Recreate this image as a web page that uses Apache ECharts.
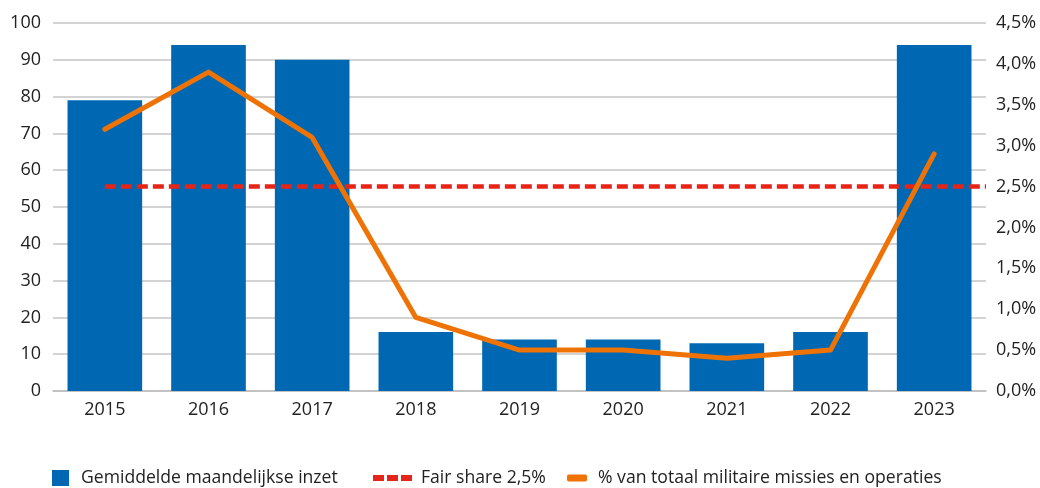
<!DOCTYPE html>
<html>
<head>
<meta charset="utf-8">
<script src="https://cdn.jsdelivr.net/npm/echarts@6/dist/echarts.min.js"></script>
<style>
  html, body { margin: 0; padding: 0; background: #fff; }
  #chart { width: 1040px; height: 488px; }
</style>
</head>
<body>
<div id="chart"></div>
<script>
// jaren en waarden
const years = ['2015', '2016', '2017', '2018', '2019', '2020', '2021', '2022', '2023']
const inzet = [79, 94, 90, 16, 14, 14, 13, 16, 94]           // gemiddelde maandelijkse inzet
const percentage = [3.2, 3.9, 3.1, 0.9, 0.5, 0.5, 0.4, 0.5, 2.9] // % van totaal
const fairShareValue = 2.5

const blauw = '#0068b3'
const rood = '#e42518'
const oranje = '#ef7204'
const tekst = '#222'
const font = 'Open Sans'

// fair share loopt van 2015 door tot de rechterrand van het plotvlak
const fairShare = years.map((y, i) => [i, fairShareValue]).concat([[years.length - 0.5, fairShareValue]])

var chartDom = document.getElementById('chart')
const chart = echarts.init(chartDom)

const legendText = { fontFamily: font, fontSize: 17.6, color: tekst, lineHeight: 20 }

const option = {
  backgroundColor: '#fff',
  animation: false,
  textStyle: { fontFamily: font },
  grid: {
    left: 53,
    right: 54,
    top: 23,
    bottom: 97
  },
  legend: [
    {
      left: 52, top: 468, padding: 0,
      itemWidth: 17, itemHeight: 16,
      icon: 'rect',
      data: ['Gemiddelde maandelijkse inzet'],
      textStyle: Object.assign({ padding: [0, 0, 0, 7] }, legendText)
    },
    {
      left: 373, top: 468, padding: 0,
      itemWidth: 39, itemHeight: 6,
      icon: 'path://M0,0h11v6h-11z M14,0h11v6h-11z M28,0h11v6h-11z',
      data: ['Fair share 2,5%'],
      textStyle: Object.assign({ padding: [0, 0, 0, 4] }, legendText)
    },
    {
      left: 567, top: 468, padding: 0,
      itemWidth: 20, itemHeight: 7,
      icon: 'roundRect',
      data: ['% van totaal militaire missies en operaties'],
      textStyle: Object.assign({ padding: [0, 0, 0, 6] }, legendText)
    }
  ],
  xAxis: [
    {
      type: 'category',
      data: years,
      axisLine: { lineStyle: { color: '#bdbdbd', width: 1.5 } },
      axisTick: { show: false },
      axisLabel: { color: tekst, fontSize: 18, margin: 10 }
    },
    {
      // verborgen hulpas zodat de fair-share-lijn tot de rand kan lopen
      type: 'value',
      min: -0.5, max: years.length - 0.5,
      show: false
    }
  ],
  yAxis: [
    {
      type: 'value',
      min: 0, max: 100, interval: 10,
      axisLine: { show: false },
      axisTick: { show: false },
      axisLabel: { color: tekst, fontSize: 18, margin: 12 },
      splitLine: { lineStyle: { color: '#c4c4c4', width: 1.5 } }
    },
    {
      type: 'value',
      min: 0, max: 4.5, interval: 0.5,
      axisLine: { show: false },
      axisTick: { show: false },
      splitLine: { show: false },
      axisLabel: {
        color: tekst, fontSize: 18, margin: 10,
        formatter: function (v) { return v.toFixed(1).replace('.', ',') + '%' }
      }
    }
  ],
  series: [
    {
      name: 'Gemiddelde maandelijkse inzet',
      type: 'bar',
      data: inzet,
      barCategoryGap: '28%',
      itemStyle: { color: blauw }
    },
    {
      name: 'Fair share 2,5%',
      type: 'line',
      xAxisIndex: 1,
      yAxisIndex: 1,
      data: fairShare,
      symbol: 'none',
      itemStyle: { color: rood },
      lineStyle: { color: rood, width: 4.5, type: [11, 5] }
    },
    {
      name: '% van totaal militaire missies en operaties',
      type: 'line',
      yAxisIndex: 1,
      data: percentage,
      symbol: 'none',
      itemStyle: { color: oranje },
      lineStyle: { color: oranje, width: 5, cap: 'round', join: 'round' }
    }
  ]
}

chart && chart.setOption(option)
</script>
</body>
</html>
